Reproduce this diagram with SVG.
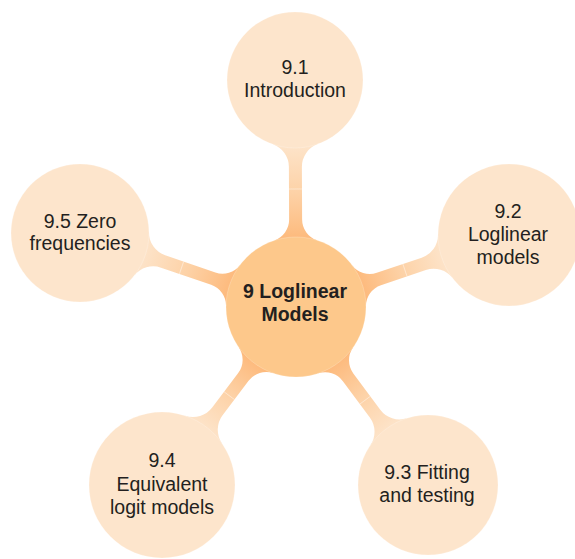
<svg xmlns="http://www.w3.org/2000/svg" width="575" height="559" viewBox="0 0 575 559">
  <defs>
    <!-- connector shading: deeper orange at the hub, pale peach at the topic bubble -->
    <linearGradient id="stemFill" x1="0" y1="0" x2="1" y2="0">
      <stop offset="0" stop-color="#FDB97B"/>
      <stop offset="0.5" stop-color="#FDD2A7"/>
      <stop offset="1" stop-color="#FDE4CA"/>
    </linearGradient>
    <style>
      .stem { fill: url(#stemFill); }
      .seam { stroke: #ffffff; stroke-opacity: 0.5; stroke-width: 0.8; }
      .hub { fill: #FDC88B; stroke: #ffffff; stroke-opacity: 0.3; stroke-width: 0.7; }
      .topic { fill: #FDE5CC; stroke: #ffffff; stroke-opacity: 0.3; stroke-width: 0.7; }
      .label { font-family: "Liberation Sans", Arial, Helvetica, sans-serif; font-size: 19.5px; fill: #231F20; text-anchor: middle; }
      .hubLabel { font-family: "Liberation Sans", Arial, Helvetica, sans-serif; font-size: 19.5px; font-weight: bold; fill: #231F20; text-anchor: middle; }
    </style>
  </defs>

  <!-- filleted stems from the hub to each topic bubble (local x-axis points outward) -->
  <g id="connectors">
    <g transform="translate(296 307) rotate(-90.25)">
      <path class="stem" d="M66.55,-21.68 A22 22 0 0 0 87.47,-6.5 L140.2,-6.5 A24 24 0 0 0 162.84,-22.54 L162.84,22.54 A24 24 0 0 0 140.2,6.5 L87.47,6.5 A22 22 0 0 0 66.55,21.68 Z"/>
      <line class="seam" x1="118" y1="-6.5" x2="118" y2="6.5"/>
    </g>
    <g transform="translate(296 307) rotate(-18.68)">
      <path class="stem" d="M66.55,-21.68 A22 22 0 0 0 87.47,-6.5 L134.87,-6.5 A24 24 0 0 0 157.6,-22.79 L157.6,22.79 A24 24 0 0 0 134.87,6.5 L87.47,6.5 A22 22 0 0 0 66.55,21.68 Z"/>
      <line class="seam" x1="115" y1="-6.5" x2="115" y2="6.5"/>
    </g>
    <g transform="translate(296 307) rotate(53.44)">
      <path class="stem" d="M66.55,-21.68 A22 22 0 0 0 87.47,-6.5 L132.69,-6.5 A24 24 0 0 0 155.39,-22.71 L155.39,22.71 A24 24 0 0 0 132.69,6.5 L87.47,6.5 A22 22 0 0 0 66.55,21.68 Z"/>
      <line class="seam" x1="116" y1="-6.5" x2="116" y2="6.5"/>
    </g>
    <g transform="translate(296 307) rotate(126.97)">
      <path class="stem" d="M66.55,-21.68 A22 22 0 0 0 87.47,-6.5 L130.72,-6.5 A24 24 0 0 0 153.5,-22.95 L153.5,22.95 A24 24 0 0 0 130.72,6.5 L87.47,6.5 A22 22 0 0 0 66.55,21.68 Z"/>
      <line class="seam" x1="111" y1="-6.5" x2="111" y2="6.5"/>
    </g>
    <g transform="translate(296 307) rotate(-161.09)">
      <path class="stem" d="M66.55,-21.68 A22 22 0 0 0 87.47,-6.5 L140.46,-6.5 A24 24 0 0 0 163.13,-22.63 L163.13,22.63 A24 24 0 0 0 140.46,6.5 L87.47,6.5 A22 22 0 0 0 66.55,21.68 Z"/>
      <line class="seam" x1="121" y1="-6.5" x2="121" y2="6.5"/>
    </g>
  </g>

  <!-- hub -->
  <g id="hub">
    <circle class="hub" cx="296" cy="307" r="70"/>
    <text class="hubLabel" x="295" y="298">9 Loglinear</text>
    <text class="hubLabel" x="295" y="321">Models</text>
  </g>

  <!-- topic bubbles -->
  <g id="topic-9-1">
    <circle class="topic" cx="295" cy="80" r="68"/>
    <text class="label" x="295" y="73.5">9.1</text>
    <text class="label" x="295" y="97">Introduction</text>
  </g>
  <g id="topic-9-2">
    <circle class="topic" cx="509" cy="235" r="71"/>
    <text class="label" x="508" y="217.5">9.2</text>
    <text class="label" x="508" y="240.5">Loglinear</text>
    <text class="label" x="508" y="263.5">models</text>
  </g>
  <g id="topic-9-3">
    <circle class="topic" cx="428" cy="485" r="70"/>
    <text class="label" x="427" y="479">9.3 Fitting</text>
    <text class="label" x="427" y="502">and testing</text>
  </g>
  <g id="topic-9-4">
    <circle class="topic" cx="162" cy="485" r="73"/>
    <text class="label" x="162" y="467">9.4</text>
    <text class="label" x="162" y="490.5">Equivalent</text>
    <text class="label" x="162" y="513.5">logit models</text>
  </g>
  <g id="topic-9-5">
    <circle class="topic" cx="80" cy="233" r="69"/>
    <text class="label" x="80" y="227.5">9.5 Zero</text>
    <text class="label" x="80" y="250">frequencies</text>
  </g>
</svg>
